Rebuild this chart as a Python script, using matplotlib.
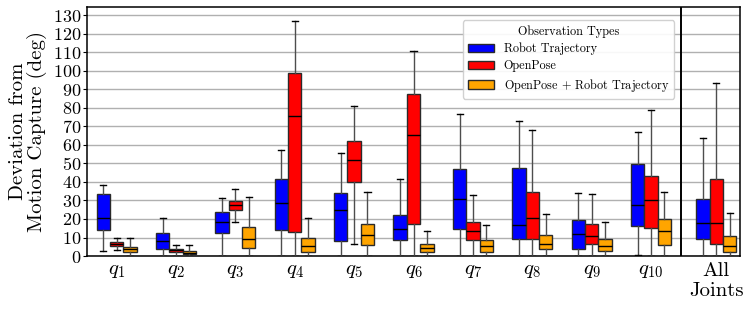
import matplotlib
matplotlib.use('Agg')
import matplotlib.pyplot as plt
from matplotlib.patches import Patch
import numpy as np

plt.rcParams['font.family'] = ['cmr10', 'DejaVu Serif']
plt.rcParams['mathtext.fontset'] = 'cm'
plt.rcParams['axes.formatter.use_mathtext'] = True

# ---- data (degrees) ----
groups = [r'$q_{1}$', r'$q_{2}$', r'$q_{3}$', r'$q_{4}$', r'$q_{5}$',
          r'$q_{6}$', r'$q_{7}$', r'$q_{8}$', r'$q_{9}$', r'$q_{10}$',
          'All\nJoints']
series = ['Robot Trajectory', 'OpenPose', r'OpenPose$\,+\,$Robot Trajectory']
colors = ['#0000ff', '#ff0000', '#ffa500']

# each row: [whislo, q1, med, q3, whishi] per group
robot = [
    [2.7, 14.0, 20.4, 33.5, 38.4],
    [0.0, 3.6, 8.1, 12.6, 20.4],
    [0.0, 12.3, 18.2, 23.9, 31.5],
    [0.0, 14.0, 28.4, 41.4, 57.3],
    [0.0, 8.3, 24.7, 33.9, 55.8],
    [0.0, 8.6, 14.8, 22.0, 41.8],
    [0.0, 14.4, 30.6, 47.2, 76.7],
    [0.0, 9.4, 16.6, 47.5, 72.6],
    [0.0, 3.8, 11.7, 19.6, 34.0],
    [0.5, 16.0, 27.4, 49.9, 67.2],
    [0.0, 9.0, 18.0, 30.8, 63.9],
]
openpose = [
    [3.4, 5.6, 6.5, 7.4, 9.9],
    [0.3, 2.3, 3.1, 3.6, 5.9],
    [18.2, 24.9, 27.7, 29.5, 36.2],
    [0.0, 13.0, 75.8, 98.7, 126.8],
    [6.7, 39.8, 52.0, 62.0, 81.2],
    [0.0, 17.3, 65.4, 87.2, 110.9],
    [0.0, 8.5, 13.5, 18.2, 33.0],
    [0.0, 9.0, 20.4, 34.7, 68.1],
    [0.0, 6.3, 11.0, 17.1, 33.7],
    [0.0, 15.1, 30.1, 43.2, 78.7],
    [0.0, 6.7, 18.0, 41.4, 93.3],
]
combined = [
    [0.2, 2.0, 3.6, 5.0, 9.5],
    [0.2, 1.1, 1.8, 2.9, 5.9],
    [0.0, 4.5, 9.0, 15.5, 32.0],
    [0.0, 2.2, 5.2, 9.5, 20.4],
    [0.0, 5.8, 11.3, 17.5, 34.7],
    [0.2, 2.0, 4.1, 6.7, 13.3],
    [0.0, 2.3, 5.2, 8.5, 16.9],
    [0.0, 3.6, 6.7, 11.3, 22.5],
    [0.0, 2.7, 5.2, 9.0, 18.2],
    [0.0, 6.1, 13.7, 19.8, 34.7],
    [0.0, 2.3, 5.2, 10.6, 23.2],
]
all_series = [robot, openpose, combined]

group_pos = np.array(list(range(10)) + [10.1])
box_w = 0.225
offsets = [-box_w, 0.0, box_w]

fig = plt.figure(figsize=(7.47, 3.10), dpi=100)
ax = fig.add_axes([0.1165, 0.174, 0.8741, 0.803])

for k, data in enumerate(all_series):
    stats = []
    for row in data:
        lo, q1, med, q3, hi = row
        stats.append(dict(whislo=lo, q1=q1, med=med, q3=q3, whishi=hi, fliers=[]))
    ax.bxp(stats, positions=group_pos + offsets[k], widths=box_w,
           patch_artist=True, showfliers=False, manage_ticks=False,
           boxprops=dict(facecolor=colors[k], edgecolor='#2a2a2a', linewidth=1.0),
           medianprops=dict(color='black', linewidth=1.0),
           whiskerprops=dict(color='#4d4d4d', linewidth=1.0),
           capprops=dict(color='black', linewidth=1.0),
           capwidths=box_w * 0.45, zorder=3)

ax.axvline(9.5, color='black', linewidth=1.4, zorder=4)

ax.set_xlim(-0.5, 10.5)
ax.set_ylim(0, 134.3)
ax.set_xticks(group_pos)
ax.set_xticklabels(groups, fontsize=15)
ax.tick_params(axis='x', length=0, pad=4)
ax.set_yticks(np.arange(0, 131, 10))
ax.tick_params(axis='y', labelsize=13, length=3, pad=1)
ax.yaxis.grid(True, color='#b0b0b0', linewidth=1.0, zorder=0)
ax.set_axisbelow(True)
for sp in ax.spines.values():
    sp.set_linewidth(1.1)

ax.set_ylabel('Deviation from\nMotion Capture (deg)', fontsize=15, labelpad=4,
              linespacing=1.0)

handles = [Patch(facecolor=c, edgecolor='#2a2a2a', label=s)
           for c, s in zip(colors, series)]
leg = ax.legend(handles=handles, title='Observation Types', loc='upper right',
                bbox_to_anchor=(0.899, 0.948), borderaxespad=0.0,
                fontsize=8.8, title_fontsize=8.8, labelspacing=0.4,
                handlelength=2.15, handleheight=0.7, handletextpad=0.8,
                framealpha=0.9, edgecolor='#cccccc', fancybox=True)

fig.savefig('out.png', dpi=100, facecolor='white')
